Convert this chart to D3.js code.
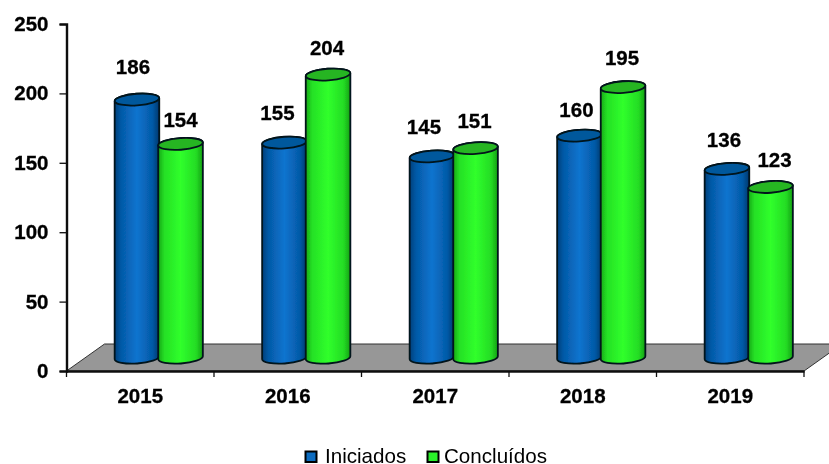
<!DOCTYPE html>
<html><head><meta charset="utf-8">
<style>html,body{margin:0;padding:0;background:#fff}svg{display:block}text{font-family:"Liberation Sans",Arial,sans-serif}</style>
<script src="https://cdn.jsdelivr.net/npm/d3@7"></script></head>
<body><svg id="c" width="829" height="464"></svg>
<script>
const categories = ["2015","2016","2017","2018","2019"];
const iniciados = [186,155,145,160,136];
const concluidos = [154,204,151,195,123];
const yTicks = [0,50,100,150,200,250];
const seriesNames = ["Iniciados","Concluídos"];

const svg = d3.select("#c");
const x = d3.scaleBand().domain(categories).range([66.5,804]);
const y = d3.scaleLinear().domain([0,250]).range([371,24]);
const depthX = 18.5, depthY = 13.3, rx = 22.3, ry = 5.8, tilt = -4;

const defs = svg.append("defs");
function grad(id, stops){
  const g = defs.append("linearGradient").attr("id",id).attr("x1",0).attr("x2",1).attr("y1",0).attr("y2",0);
  stops.forEach(s=>g.append("stop").attr("offset",s[0]).attr("stop-color",s[1]));
}
grad("gb",[[0,"#04407a"],[.14,"#0559a6"],[.5,"#0a74cf"],[.85,"#0559a6"],[1,"#03386c"]]);
grad("gg",[[0,"#17a817"],[.14,"#25e025"],[.5,"#30ff2c"],[.85,"#24dc24"],[1,"#14a014"]]);
defs.append("filter").attr("id","soft").append("feGaussianBlur").attr("stdDeviation",.35);

const root = svg.append("g").attr("filter","url(#soft)");

// floor
const x0 = x.range()[0], x1 = x.range()[1], y0 = y(0);
root.append("path")
  .attr("d",`M${x0},${y0}L${x0+38},${y0-27}L${x1+38},${y0-27}L${x1},${y0}Z`)
  .attr("fill","#979797").attr("stroke","#333").attr("stroke-width",1);

// axes
const ax = root.append("g").attr("transform",`translate(${x0},0)`).call(d3.axisLeft(y).tickValues(yTicks).tickSize(7).tickPadding(11));
const bx = root.append("g").attr("transform",`translate(0,${y0})`).call(d3.axisBottom(x).tickValues([]).tickSize(0));
[ax,bx].forEach(a=>a.select(".domain").attr("stroke","#111").attr("stroke-width",2.4));
ax.selectAll(".tick line").attr("stroke","#111").attr("stroke-width",1.3);
ax.selectAll("text").attr("font-size",20.5).attr("font-weight","bold").attr("fill","#000")
  .attr("stroke","#000").attr("stroke-width",.3)
  .style("font-family",'"Liberation Sans",Arial,sans-serif');
const tickPos = categories.map(c=>x(c)).concat([x1]);
root.append("g").selectAll("line").data(tickPos).join("line")
  .attr("x1",d=>d).attr("x2",d=>d).attr("y1",y0).attr("y2",y0+6).attr("stroke","#111").attr("stroke-width",1.3);
root.append("g").selectAll("text").data(categories).join("text")
  .attr("x",c=>x(c)+x.bandwidth()/2).attr("y",y0+32).attr("text-anchor","middle")
  .attr("font-size",20.5).attr("font-weight","bold").attr("stroke","#000").attr("stroke-width",.3).text(c=>c);

// cylinders
const rows = categories.flatMap((c,i)=>[
  {c,s:0,v:iniciados[i]},{c,s:1,v:concluidos[i]}
]);
const cx = d=>x(d.c)+x.bandwidth()/2+depthX+(d.s?21.8:-21.8);
const topY = d=>y(d.v)-depthY;
const botY = ()=>y(0)-depthY;
const g = root.append("g").selectAll("g").data(rows).join("g");
g.append("path")
  .attr("d",d=>{const a=cx(d)-rx,b=cx(d)+rx,dy=rx*Math.sin(tilt*Math.PI/180);
    return `M${a},${topY(d)-dy}L${a},${botY()-dy}A${rx},${ry} ${tilt} 0 0 ${b},${botY()+dy}L${b},${topY(d)+dy}A${rx},${ry} ${tilt} 0 0 ${a},${topY(d)-dy}Z`;})
  .attr("fill",d=>d.s?"url(#gg)":"url(#gb)").attr("stroke","#06121a").attr("stroke-width",1.8);
g.append("ellipse")
  .attr("cx",cx).attr("cy",topY).attr("rx",rx).attr("ry",ry)
  .attr("transform",d=>`rotate(${tilt} ${cx(d)} ${topY(d)})`)
  .attr("fill",d=>d.s?"#25b524":"#04589c").attr("stroke","#06121a").attr("stroke-width",1.8);

// data labels
const lift = [33,24,30,27,30,28,26,30,29,27];
const nudge = [-4,0,-7,-1,-8,-1,-3,-1,-3,4];
root.append("g").selectAll("text").data(rows).join("text")
  .attr("x",(d,i)=>cx(d)+nudge[i]).attr("y",(d,i)=>topY(d)-lift[i]+7.5)
  .attr("text-anchor","middle").attr("font-size",20.5).attr("font-weight","bold")
  .attr("stroke","#000").attr("stroke-width",.3).text(d=>d.v);

// legend
const legendX = [305.5,427.5], legendText = [325,444], colors = ["#0a6cc0","#2bf02b"];
const lg = root.append("g").selectAll("g").data(seriesNames).join("g");
lg.append("rect").attr("x",(d,i)=>legendX[i]).attr("y",451.5).attr("width",11).attr("height",10.5)
  .attr("fill",(d,i)=>colors[i]).attr("stroke","#000").attr("stroke-width",2);
lg.append("text").attr("x",(d,i)=>legendText[i]).attr("y",463).attr("font-size",20.6).text(d=>d);
</script></body></html>
